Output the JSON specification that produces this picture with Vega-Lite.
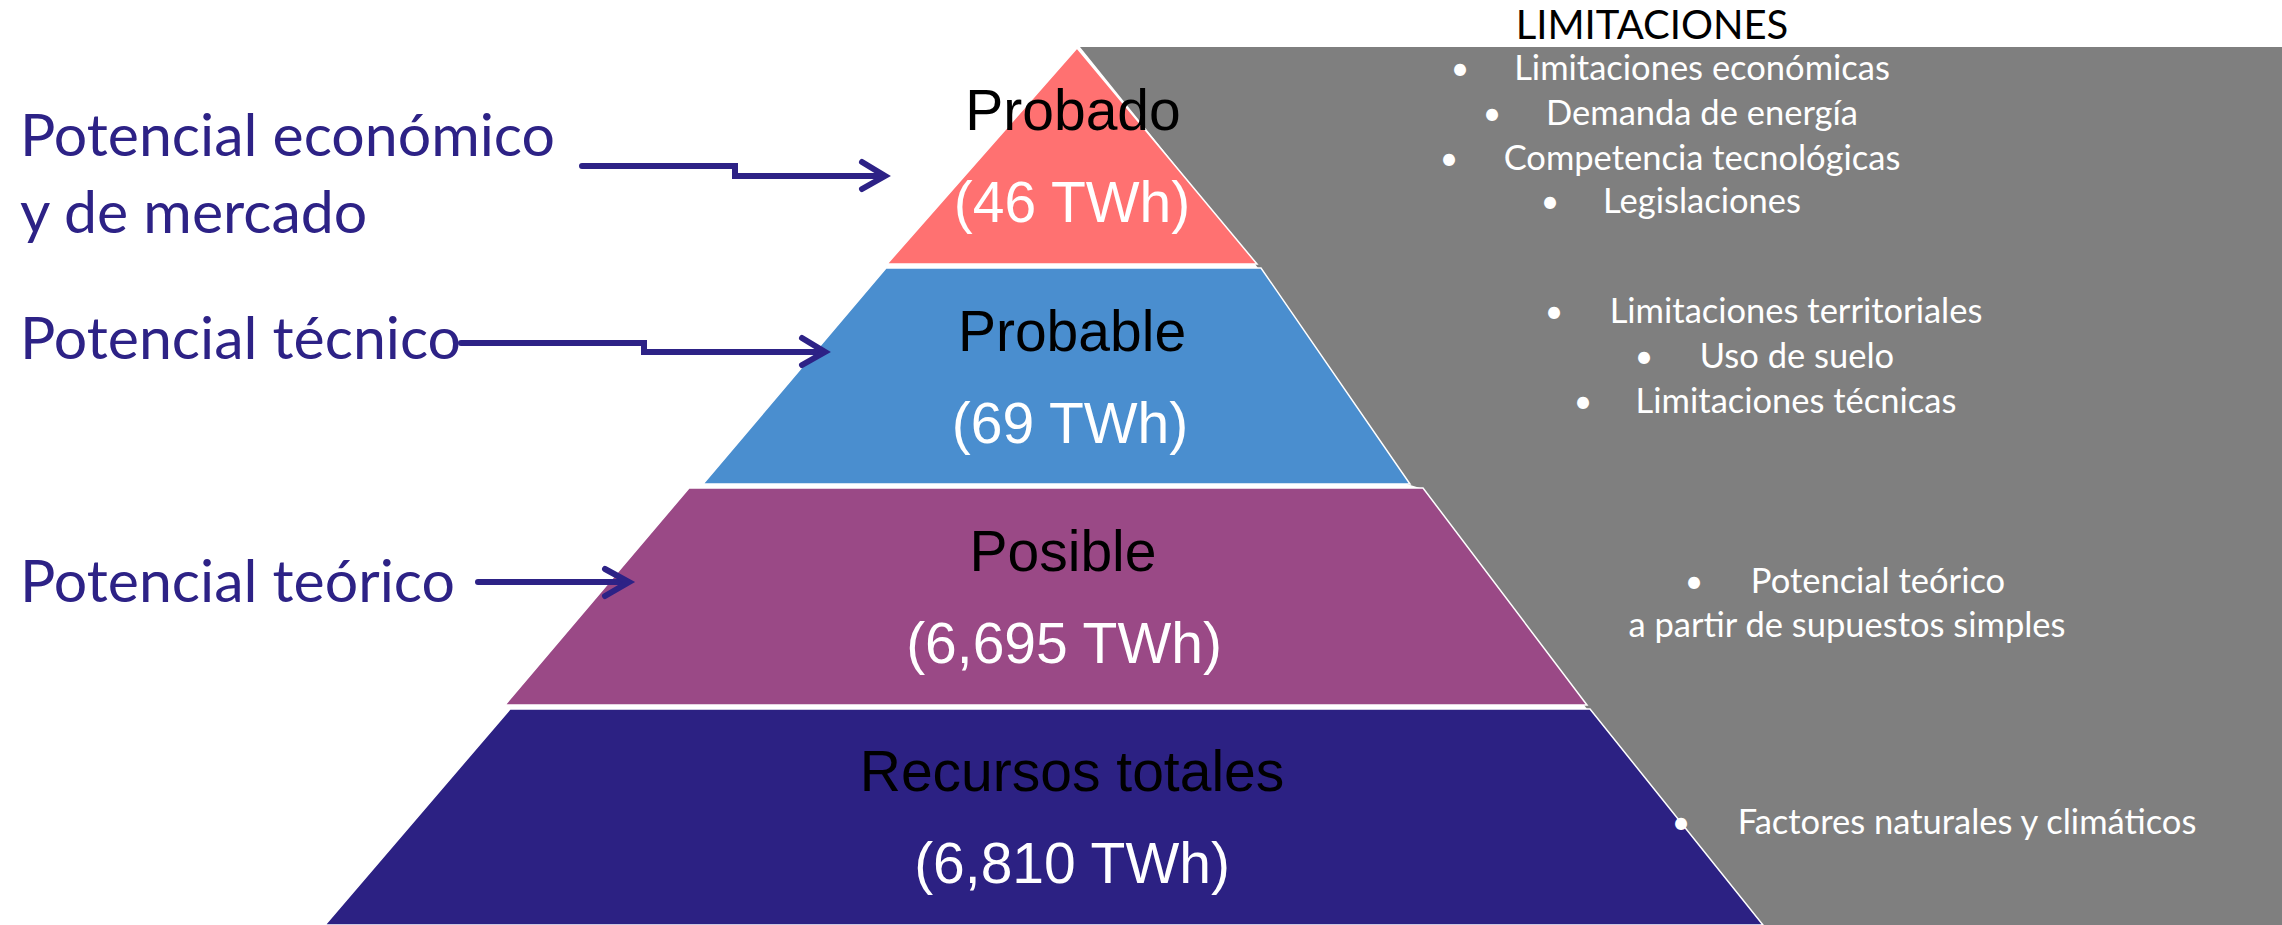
{
  "$schema": "https://vega.github.io/schema/vega-lite/v6.json",
  "width": 2282,
  "height": 925,
  "padding": 0,
  "autosize": {"type": "none"},
  "background": "white",
  "config": {"view": {"stroke": null}},
  "datasets": {
    "limitesFondo": [
      {"y": 47, "x": 1080, "x2": 2282},
      {"y": 264, "x": 1255, "x2": 2282},
      {"y": 268, "x": 1258, "x2": 2282},
      {"y": 484, "x": 1407, "x2": 2282},
      {"y": 488, "x": 1420, "x2": 2282},
      {"y": 705, "x": 1584, "x2": 2282},
      {"y": 709, "x": 1587, "x2": 2282},
      {"y": 925, "x": 1760, "x2": 2282}
    ],
    "piramide": [
      {"nivel": "Probado", "y": 48, "x": 1077, "x2": 1077},
      {"nivel": "Probado", "y": 264, "x": 887, "x2": 1257},
      {"nivel": "Probable", "y": 268, "x": 886, "x2": 1261},
      {"nivel": "Probable", "y": 484, "x": 703, "x2": 1410},
      {"nivel": "Posible", "y": 488, "x": 689, "x2": 1423},
      {"nivel": "Posible", "y": 705, "x": 505, "x2": 1587},
      {"nivel": "Recursos totales", "y": 709, "x": 510, "x2": 1590},
      {"nivel": "Recursos totales", "y": 925, "x": 325, "x2": 1763}
    ],
    "flechas": [
      {"id": "e1", "i": 1, "x": 582, "y": 166},
      {"id": "e1", "i": 2, "x": 735, "y": 166},
      {"id": "e1", "i": 3, "x": 735, "y": 176},
      {"id": "e1", "i": 4, "x": 882, "y": 176},
      {"id": "e1p", "i": 1, "x": 862, "y": 162},
      {"id": "e1p", "i": 2, "x": 885, "y": 176},
      {"id": "e1p", "i": 3, "x": 862, "y": 189},
      {"id": "t1", "i": 1, "x": 461, "y": 343},
      {"id": "t1", "i": 2, "x": 644, "y": 343},
      {"id": "t1", "i": 3, "x": 644, "y": 352},
      {"id": "t1", "i": 4, "x": 822, "y": 352},
      {"id": "t1p", "i": 1, "x": 802, "y": 338},
      {"id": "t1p", "i": 2, "x": 825, "y": 352},
      {"id": "t1p", "i": 3, "x": 802, "y": 365},
      {"id": "r1", "i": 1, "x": 478, "y": 582},
      {"id": "r1", "i": 2, "x": 626, "y": 582},
      {"id": "r1p", "i": 1, "x": 605, "y": 569},
      {"id": "r1p", "i": 2, "x": 629, "y": 582},
      {"id": "r1p", "i": 3, "x": 605, "y": 596}
    ],
    "titulo": [{"texto": "LIMITACIONES", "x": 1652, "y": 39}],
    "limitaciones": [
      {"texto": "Limitaciones económicas", "x": 1702, "y": 80},
      {"texto": "Demanda de energía", "x": 1702, "y": 125},
      {"texto": "Competencia tecnológicas", "x": 1702, "y": 170},
      {"texto": "Legislaciones", "x": 1702, "y": 213},
      {"texto": "Limitaciones territoriales", "x": 1796, "y": 323},
      {"texto": "Uso de suelo", "x": 1797, "y": 368},
      {"texto": "Limitaciones técnicas", "x": 1796, "y": 413},
      {"texto": "Potencial teórico", "x": 1878, "y": 593},
      {"texto": "a partir de supuestos simples", "x": 1847, "y": 637},
      {"texto": "Factores naturales y climáticos", "x": 1967, "y": 834}
    ],
    "vinetas": [
      {"texto": "•", "x": 1460, "y": 80},
      {"texto": "•", "x": 1492, "y": 125},
      {"texto": "•", "x": 1449, "y": 170},
      {"texto": "•", "x": 1550, "y": 213},
      {"texto": "•", "x": 1554, "y": 323},
      {"texto": "•", "x": 1644, "y": 368},
      {"texto": "•", "x": 1583, "y": 413},
      {"texto": "•", "x": 1694, "y": 593},
      {"texto": "•", "x": 1681, "y": 834}
    ],
    "potenciales": [
      {"texto": "Potencial económico", "x": 20, "y": 156},
      {"texto": "y de mercado", "x": 20, "y": 233},
      {"texto": "Potencial técnico", "x": 20, "y": 359},
      {"texto": "Potencial teórico", "x": 20, "y": 602}
    ],
    "niveles": [
      {"texto": "Probado", "x": 1073, "y": 130},
      {"texto": "Probable", "x": 1072, "y": 351},
      {"texto": "Posible", "x": 1063, "y": 571},
      {"texto": "Recursos totales", "x": 1072, "y": 791}
    ],
    "valores": [
      {"texto": "(46 TWh)", "twh": 46, "x": 1072, "y": 222},
      {"texto": "(69 TWh)", "twh": 69, "x": 1070, "y": 443},
      {"texto": "(6,695 TWh)", "twh": 6695, "x": 1064, "y": 663},
      {"texto": "(6,810 TWh)", "twh": 6810, "x": 1072, "y": 883}
    ]
  },
  "layer": [
    {
      "data": {"name": "limitesFondo"},
      "mark": {"type": "area", "orient": "horizontal", "color": "#7F7F7F"},
      "encoding": {
        "y": {"field": "y", "type": "quantitative", "axis": null, "scale": {"domain": [0, 925], "reverse": true, "nice": false, "zero": false}},
        "x": {"field": "x", "type": "quantitative", "axis": null, "stack": null, "scale": {"domain": [0, 2282], "nice": false, "zero": false}},
        "x2": {"field": "x2"}
      }
    },
    {
      "data": {"name": "piramide"},
      "mark": {"type": "area", "orient": "horizontal", "stroke": "white", "strokeWidth": 1.5, "opacity": 1},
      "encoding": {
        "y": {"field": "y", "type": "quantitative", "axis": null, "scale": {"domain": [0, 925], "reverse": true, "nice": false, "zero": false}},
        "x": {"field": "x", "type": "quantitative", "axis": null, "stack": null, "scale": {"domain": [0, 2282], "nice": false, "zero": false}},
        "x2": {"field": "x2"},
        "fill": {"field": "nivel", "type": "nominal", "legend": null, "scale": {"domain": ["Probado", "Probable", "Posible", "Recursos totales"], "range": ["#FF7171", "#4A8ECF", "#9A4986", "#2C2183"]}}
      }
    },
    {
      "data": {"name": "flechas"},
      "mark": {"type": "line", "color": "#2D2286", "strokeWidth": 6, "strokeCap": "round", "strokeJoin": "miter"},
      "encoding": {
        "x": {"field": "x", "type": "quantitative", "axis": null, "scale": {"domain": [0, 2282], "nice": false, "zero": false}},
        "y": {"field": "y", "type": "quantitative", "axis": null, "scale": {"domain": [0, 925], "reverse": true, "nice": false, "zero": false}},
        "detail": {"field": "id"},
        "order": {"field": "i", "type": "quantitative"}
      }
    },
    {
      "data": {"name": "titulo"},
      "mark": {"type": "text", "font": "Lato", "fontSize": 40, "color": "#000000", "align": "center", "baseline": "alphabetic"},
      "encoding": {
        "x": {"field": "x", "type": "quantitative", "axis": null, "scale": {"domain": [0, 2282], "nice": false, "zero": false}},
        "y": {"field": "y", "type": "quantitative", "axis": null, "scale": {"domain": [0, 925], "reverse": true, "nice": false, "zero": false}},
        "text": {"field": "texto"}
      }
    },
    {
      "data": {"name": "limitaciones"},
      "mark": {"type": "text", "font": "Lato", "fontSize": 34.5, "color": "#FFFFFF", "align": "center", "baseline": "alphabetic"},
      "encoding": {
        "x": {"field": "x", "type": "quantitative", "axis": null, "scale": {"domain": [0, 2282], "nice": false, "zero": false}},
        "y": {"field": "y", "type": "quantitative", "axis": null, "scale": {"domain": [0, 925], "reverse": true, "nice": false, "zero": false}},
        "text": {"field": "texto"}
      }
    },
    {
      "data": {"name": "vinetas"},
      "mark": {"type": "text", "font": "Lato", "fontSize": 32, "color": "#FFFFFF", "align": "center", "baseline": "alphabetic"},
      "encoding": {
        "x": {"field": "x", "type": "quantitative", "axis": null, "scale": {"domain": [0, 2282], "nice": false, "zero": false}},
        "y": {"field": "y", "type": "quantitative", "axis": null, "scale": {"domain": [0, 925], "reverse": true, "nice": false, "zero": false}},
        "text": {"field": "texto"}
      }
    },
    {
      "data": {"name": "potenciales"},
      "mark": {"type": "text", "font": "Lato", "fontSize": 59, "color": "#2D2286", "align": "left", "baseline": "alphabetic"},
      "encoding": {
        "x": {"field": "x", "type": "quantitative", "axis": null, "scale": {"domain": [0, 2282], "nice": false, "zero": false}},
        "y": {"field": "y", "type": "quantitative", "axis": null, "scale": {"domain": [0, 925], "reverse": true, "nice": false, "zero": false}},
        "text": {"field": "texto"}
      }
    },
    {
      "data": {"name": "niveles"},
      "mark": {"type": "text", "font": "Liberation Sans", "fontSize": 57, "color": "#000000", "align": "center", "baseline": "alphabetic"},
      "encoding": {
        "x": {"field": "x", "type": "quantitative", "axis": null, "scale": {"domain": [0, 2282], "nice": false, "zero": false}},
        "y": {"field": "y", "type": "quantitative", "axis": null, "scale": {"domain": [0, 925], "reverse": true, "nice": false, "zero": false}},
        "text": {"field": "texto"}
      }
    },
    {
      "data": {"name": "valores"},
      "mark": {"type": "text", "font": "Liberation Sans", "fontSize": 57, "color": "#FFFFFF", "align": "center", "baseline": "alphabetic"},
      "encoding": {
        "x": {"field": "x", "type": "quantitative", "axis": null, "scale": {"domain": [0, 2282], "nice": false, "zero": false}},
        "y": {"field": "y", "type": "quantitative", "axis": null, "scale": {"domain": [0, 925], "reverse": true, "nice": false, "zero": false}},
        "text": {"field": "texto"}
      }
    }
  ]
}
